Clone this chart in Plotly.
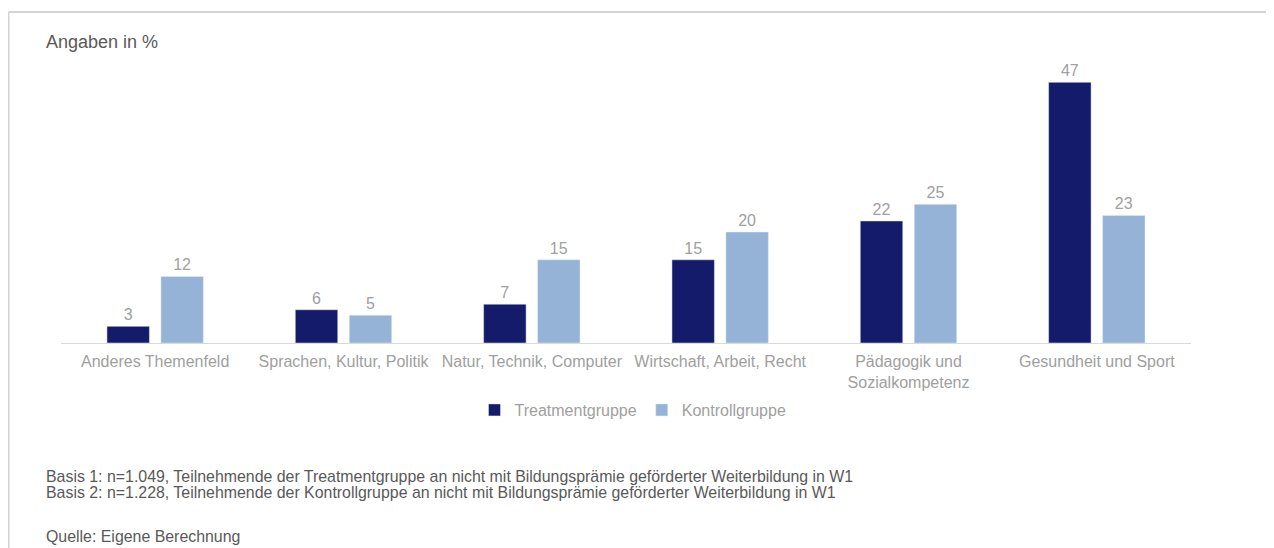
import plotly.graph_objects as go

categories = ["Anderes Themenfeld", "Sprachen, Kultur, Politik", "Natur, Technik, Computer",
              "Wirtschaft, Arbeit, Recht", "Pädagogik und<br>Sozialkompetenz", "Gesundheit und Sport"]
treatment = [3, 6, 7, 15, 22, 47]
kontroll = [12, 5, 15, 20, 25, 23]
series_names = ["Treatmentgruppe", "Kontrollgruppe"]

title_text = "Angaben in %"
footnotes = [
    "Basis 1: n=1.049, Teilnehmende der Treatmentgruppe an nicht mit Bildungsprämie geförderter Weiterbildung in W1",
    "Basis 2: n=1.228, Teilnehmende der Kontrollgruppe an nicht mit Bildungsprämie geförderter Weiterbildung in W1",
    "Quelle: Eigene Berechnung",
]

# page has an 8px body margin; figure coordinates = screen coordinates - 8
OFF = 8
W, H = 1266, 540
ML, MR, MT, MB = 53, 83, 53, 205
PW = W - ML - MR
PH = H - MT - MB

def px2paper(x, y):
    # x, y in screen pixels
    fx, fy = x - OFF, y - OFF
    return (fx - ML) / PW, (H - MB - fy) / PH

NAVY = "#141B6B"
LIGHT = "#95B3D7"
LABEL_GRAY = "#A0A0A0"
DARK_GRAY = "#595959"
FONT = "Liberation Sans, Arial, sans-serif"

fig = go.Figure()
fig.add_trace(go.Bar(x=categories, y=treatment, name=series_names[0], marker_color=NAVY,
                     text=treatment, textposition="outside", cliponaxis=False,
                     textfont=dict(color=LABEL_GRAY, size=16, family=FONT)))
fig.add_trace(go.Bar(x=categories, y=kontroll, name=series_names[1], marker_color=LIGHT,
                     text=kontroll, textposition="outside", cliponaxis=False,
                     textfont=dict(color=LABEL_GRAY, size=16, family=FONT)))

annotations = []
x, y = px2paper(44, 42)
annotations.append(dict(text=title_text, x=x, y=y, xref="paper", yref="paper",
                        xanchor="left", yanchor="middle", showarrow=False,
                        font=dict(size=18, color=DARK_GRAY, family=FONT)))
for txt, py in zip(footnotes, [476, 492, 536]):
    x, y = px2paper(44, py)
    annotations.append(dict(text=txt, x=x, y=y, xref="paper", yref="paper",
                            xanchor="left", yanchor="middle", showarrow=False,
                            font=dict(size=15.9, color=DARK_GRAY, family=FONT)))

x0, y0 = px2paper(8.5, 12)
x1, _ = px2paper(1290, 12)
_, y1 = px2paper(8.5, 560)
shapes = [
    dict(type="line", xref="paper", yref="paper", x0=x0, x1=x1, y0=y0, y1=y0,
         line=dict(color="#D4D4D4", width=2)),
    dict(type="line", xref="paper", yref="paper", x0=x0, x1=x0, y0=y0, y1=y1,
         line=dict(color="#D4D4D4", width=2)),
]

lx, ly = px2paper(633, 410)
fig.update_layout(
    width=W, height=H,
    margin=dict(l=ML, r=MR, t=MT, b=MB),
    paper_bgcolor="white", plot_bgcolor="white",
    barmode="group", bargap=0.427, bargroupgap=0.213,
    font=dict(family=FONT, color=LABEL_GRAY, size=16),
    showlegend=True,
    legend=dict(orientation="h", x=lx, y=ly, xanchor="center", yanchor="middle",
                font=dict(size=16, color=LABEL_GRAY, family=FONT),
                itemwidth=30, traceorder="normal"),
    xaxis=dict(showline=True, linecolor="#D9D9D9", linewidth=1, ticks="",
               showgrid=False, tickfont=dict(size=16, color=LABEL_GRAY, family=FONT),
               ticklabelstandoff=4),
    yaxis=dict(range=[0, 50.84], visible=False, showgrid=False, zeroline=False),
    annotations=annotations,
    shapes=shapes,
)

fig.write_html("out.html")
